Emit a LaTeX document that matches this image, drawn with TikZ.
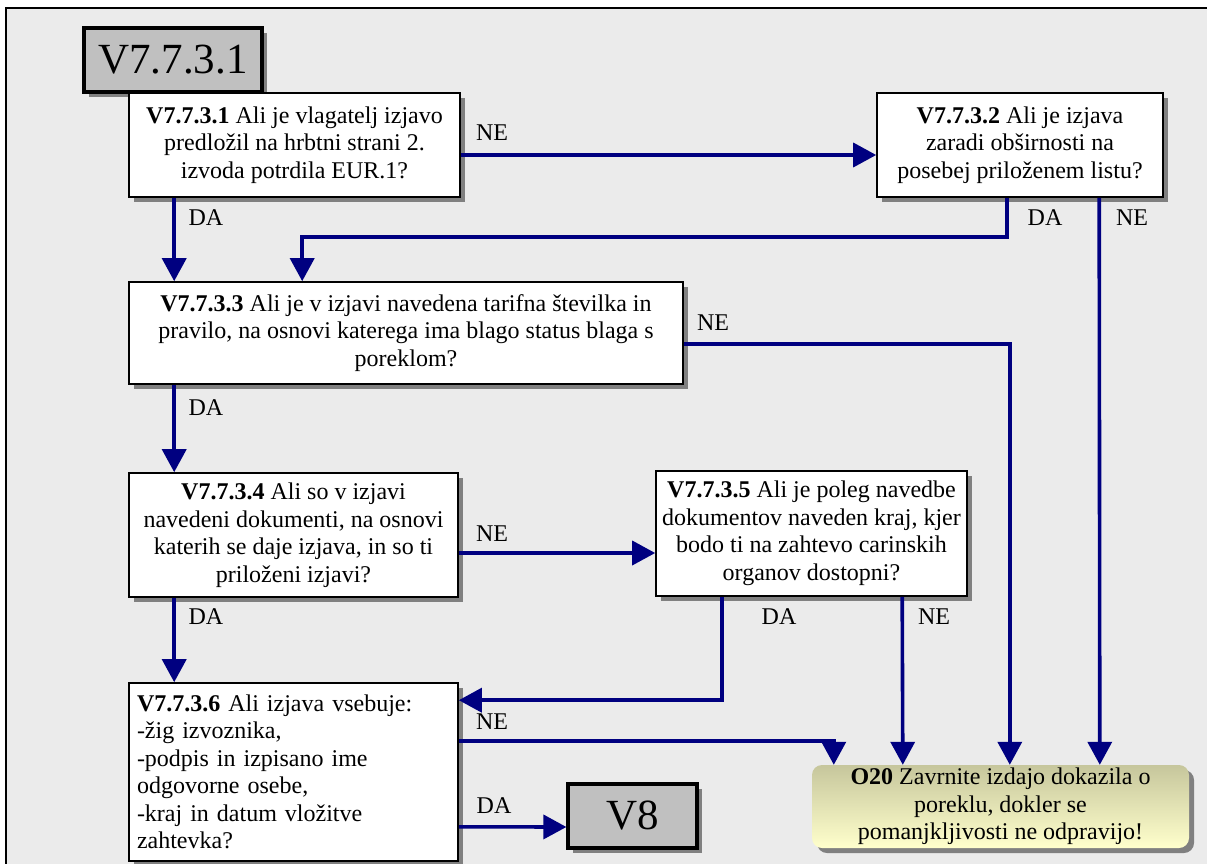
\documentclass[tikz,border=0pt]{standalone}
\usepackage{fontspec}
\setmainfont{Liberation Serif}
\usetikzlibrary{arrows.meta,shadows,calc}
\definecolor{bg}{RGB}{235,235,235}
\definecolor{navyline}{RGB}{0,0,128}
\definecolor{shade}{RGB}{128,128,128}
\definecolor{tagfill}{RGB}{192,192,192}
\definecolor{endtop}{RGB}{198,198,156}
\definecolor{endbot}{RGB}{255,255,204}
\begin{document}
\begin{tikzpicture}[x=1pt,y=-1pt,
  txt/.style={font=\fontsize{24}{27.5}\selectfont},
  box/.style={txt, draw=black, line width=1.6pt, fill=white, inner sep=4pt, align=center,
    drop shadow={shadow xshift=5pt, shadow yshift=-5pt, fill=shade, opacity=1}},
  tag/.style={draw=black, line width=3.2pt, fill=tagfill, inner sep=2pt,
    font=\fontsize{43}{46}\selectfont,
    drop shadow={shadow xshift=5pt, shadow yshift=-5pt, fill=shade, opacity=1}},
  endbox/.style={txt, rounded corners=10pt, top color=endtop, bottom color=endbot, draw=none,
    inner sep=3pt, align=center,
    drop shadow={shadow xshift=5pt, shadow yshift=-5pt, fill=shade, opacity=1}},
  conn/.style={draw=navyline, line width=3.6pt, -{Triangle[length=23pt,width=24pt]}},
  lab/.style={txt, inner sep=0pt}]
\useasboundingbox (0,0) rectangle (1207,864);

% sheet background with its top and left edge
\fill[bg] (6,8) rectangle (1215,875);
\draw[line width=1.5pt] (6,875) -- (6,8) -- (1215,8);

% section tag
\node[tag, minimum width=178pt, minimum height=64pt] (tag) at (173,60) {V7.7.3.1};

% decision boxes
\node[box, minimum width=331pt, minimum height=104pt] (b1) at (294.5,145)
  {\textbf{V7.7.3.1} Ali je vlagatelj izjavo\\ predložil na hrbtni strani 2.\\ izvoda potrdila EUR.1?};
\node[box, minimum width=286pt, minimum height=104pt] (b2) at (1020,145)
  {\textbf{V7.7.3.2} Ali je izjava\\ zaradi obširnosti na\\ posebej priloženem listu?};
\node[box, minimum width=554pt, minimum height=102pt] (b3) at (406,333)
  {\textbf{V7.7.3.3} Ali je v izjavi navedena tarifna številka in\\ pravilo, na osnovi katerega ima blago status blaga s\\ poreklom?};
\node[box, minimum width=329pt, minimum height=124pt] (b4) at (293.5,535)
  {\textbf{V7.7.3.4} Ali so v izjavi\\ navedeni dokumenti, na osnovi\\ katerih se daje izjava, in so ti\\ priloženi izjavi?};
\node[box, minimum width=311pt, minimum height=125pt] (b5) at (811.5,533.5)
  {\textbf{V7.7.3.5} Ali je poleg navedbe\\ dokumentov naveden kraj, kjer\\ bodo ti na zahtevo carinskih\\ organov dostopni?};
\node[box, align=left, text width=313pt, inner xsep=8pt, minimum height=178pt] (b6) at (293.5,772)
  {\textbf{V7.7.3.6} Ali izjava vsebuje:\\ -žig izvoznika,\\ -podpis in izpisano ime\\ odgovorne osebe,\\ -kraj in datum vložitve\\ zahtevka?};

% exits
\node[tag, minimum width=129pt, minimum height=64pt] (v8) at (632.5,816) {V8};
\node[endbox, minimum width=377pt, minimum height=83pt] (o20) at (1000.5,806.5)
  {\textbf{O20} Zavrnite izdajo dokazila o\\ poreklu, dokler se\\ pomanjkljivosti ne odpravijo!};

% connectors
\draw[conn] ($(b1.east)+(0,10)$) -- ($(b2.west)+(0,10)$);
\draw[conn] ($(b1.south west)+(46,0)$) -- ($(b3.north west)+(46,0)$);
\draw[conn] ($(b2.south west)+(131,0)$) |- ($(b3.north west)+(174,-44)$) -- ($(b3.north west)+(174,0)$);
\draw[conn] ($(b2.south west)+(223,0)$) -- ($(o20.north west)+(288,0)$);
\draw[conn] ($(b3.east)+(0,11)$) -| ($(o20.north west)+(198,0)$);
\draw[conn] ($(b3.south west)+(46,0)$) -- ($(b4.north west)+(46,0)$);
\draw[conn] ($(b4.east)+(0,18)$) -- ($(b5.west)+(0,19.5)$);
\draw[conn] ($(b4.south west)+(46,0)$) -- ($(b6.north west)+(46,0)$);
\draw[conn] ($(b5.south west)+(67,0)$) |- ($(b6.north east)+(0,18)$);
\draw[conn] ($(b5.south west)+(247,0)$) -- ($(o20.north west)+(91,0)$);
\draw[conn] ($(b6.north east)+(0,59)$) -| ($(o20.north west)+(22,0)$);
\draw[conn] ($(b6.south east)+(0,-35)$) -- ($(v8.west)+(0,11)$);

% branch labels
\node[lab] (l1) at (492,133) {NE};
\node[lab] (l2) at (206,218) {DA};
\node[lab] (l3) at (1045,218) {DA};
\node[lab] (l4) at (1132,218) {NE};
\node[lab] (l5) at (713,323) {NE};
\node[lab] (l6) at (206,408) {DA};
\node[lab] (l7) at (492,534) {NE};
\node[lab] (l8) at (206,617) {DA};
\node[lab] (l9) at (779,617) {DA};
\node[lab] (l10) at (934,617) {NE};
\node[lab] (l11) at (492,722) {NE};
\node[lab] (l12) at (494,806) {DA};
\end{tikzpicture}
\end{document}
